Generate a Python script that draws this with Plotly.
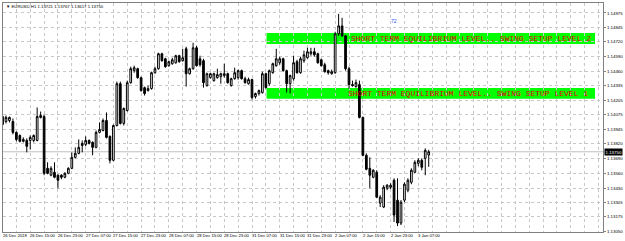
import plotly.graph_objects as go

# ---- data (EURUSD H1) ----
opens = [
1.14061,1.14017,1.14026,1.14017,1.13921,1.13894,1.13842,1.13850,1.13850,1.13850,
1.13850,1.14053,1.14061,1.13604,1.13543,1.13569,1.13543,1.13543,1.13525,1.13560,
1.13604,1.13701,1.13736,1.13824,1.13815,1.13850,1.13833,1.13789,1.13921,1.13938,
1.14026,1.13886,1.13675,1.13982,1.14351,1.14000,1.14114,1.14360,1.14466,1.14483,
1.14404,1.14316,1.14290,1.14308,1.14448,1.14483,1.14615,1.14571,1.14510,1.14527,
1.14536,1.14598,1.14554,1.14659,1.14439,1.14483,1.14668,1.14571,1.14554,1.14334,
1.14404,1.14378,1.14404,1.14413,1.14422,1.14439,1.14334,1.14395,1.14404,1.14466,
1.14395,1.14351,1.14387,1.14237,1.14264,1.14272,1.14439,1.14351,1.14448,1.14510,
1.14536,1.14571,1.14466,1.14351,1.14395,1.14545,1.14448,1.14554,1.14580,1.14615,
1.14633,1.14615,1.14562,1.14518,1.14466,1.14439,1.14448,1.14791,1.14861,1.14773,
1.14483,1.14343,1.14325,1.14343,1.14053,1.13719,1.13604,1.13525,1.13569,1.13297,
1.13262,1.13428,1.13437,1.13499,1.13323,1.13121,1.13323,1.13411,1.13481,1.13569,
1.13648,1.13675,1.13692,1.13721]
highs = [
1.14088,1.14070,1.14061,1.14044,1.13930,1.13903,1.13877,1.13868,1.13894,1.13903,
1.14141,1.14105,1.14079,1.13657,1.13622,1.13657,1.13552,1.13552,1.13569,1.13613,
1.13745,1.13789,1.13859,1.13850,1.13886,1.13859,1.13842,1.13938,1.14009,1.14044,
1.14097,1.13894,1.13991,1.14369,1.14369,1.14141,1.14378,1.14501,1.14510,1.14492,
1.14413,1.14325,1.14334,1.14457,1.14501,1.14624,1.14624,1.14580,1.14554,1.14580,
1.14606,1.14606,1.14659,1.14677,1.14492,1.14712,1.14685,1.14598,1.14571,1.14448,
1.14448,1.14448,1.14483,1.14448,1.14527,1.14448,1.14404,1.14492,1.14475,1.14475,
1.14413,1.14404,1.14395,1.14272,1.14299,1.14457,1.14448,1.14475,1.14536,1.14659,
1.14589,1.14580,1.14475,1.14431,1.14598,1.14562,1.14589,1.14642,1.14668,1.14668,
1.14668,1.14624,1.14571,1.14536,1.14475,1.14475,1.14809,1.14967,1.14932,1.14782,
1.14501,1.14378,1.14387,1.14378,1.14061,1.13736,1.13701,1.13596,1.13587,1.13367,
1.13455,1.13464,1.13472,1.13516,1.13516,1.13323,1.13481,1.13516,1.13604,1.13675,
1.13692,1.13692,1.13780,1.13767]
lows = [
1.13982,1.14000,1.14009,1.13903,1.13842,1.13833,1.13833,1.13745,1.13771,1.13833,
1.13842,1.14044,1.13543,1.13552,1.13534,1.13516,1.13428,1.13508,1.13516,1.13552,
1.13596,1.13692,1.13727,1.13745,1.13798,1.13815,1.13719,1.13780,1.13912,1.13930,
1.13868,1.13648,1.13666,1.13973,1.13991,1.13982,1.14105,1.14351,1.14448,1.14395,
1.14281,1.14246,1.14281,1.14299,1.14439,1.14475,1.14545,1.14492,1.14501,1.14518,
1.14527,1.14536,1.14545,1.14325,1.14431,1.14475,1.14501,1.14501,1.14316,1.14325,
1.14395,1.14369,1.14395,1.14351,1.14404,1.14351,1.14325,1.14387,1.14387,1.14387,
1.14351,1.14343,1.14211,1.14220,1.14246,1.14264,1.14308,1.14334,1.14439,1.14501,
1.14518,1.14457,1.14272,1.14264,1.14378,1.14439,1.14439,1.14536,1.14571,1.14598,
1.14589,1.14527,1.14501,1.14448,1.14431,1.14431,1.14439,1.14773,1.14765,1.14466,
1.14308,1.14325,1.14316,1.14044,1.13710,1.13587,1.13428,1.13516,1.13341,1.13262,
1.13253,1.13411,1.13420,1.13130,1.13094,1.13103,1.13305,1.13393,1.13464,1.13560,
1.13622,1.13587,1.13543,1.13617]
closes = [
1.13991,1.14053,1.14053,1.13921,1.13859,1.13842,1.13859,1.13798,1.13877,1.13894,
1.14061,1.14070,1.13560,1.13560,1.13604,1.13525,1.13499,1.13525,1.13560,1.13604,
1.13701,1.13736,1.13789,1.13806,1.13850,1.13824,1.13789,1.13921,1.13947,1.14026,
1.13877,1.13675,1.13982,1.14351,1.14000,1.14132,1.14360,1.14483,1.14492,1.14404,
1.14290,1.14264,1.14308,1.14448,1.14483,1.14615,1.14554,1.14501,1.14545,1.14562,
1.14598,1.14545,1.14580,1.14439,1.14483,1.14668,1.14510,1.14518,1.14360,1.14439,
1.14439,1.14439,1.14431,1.14439,1.14439,1.14360,1.14395,1.14448,1.14466,1.14395,
1.14360,1.14387,1.14228,1.14264,1.14290,1.14439,1.14316,1.14466,1.14527,1.14571,
1.14571,1.14466,1.14351,1.14422,1.14536,1.14448,1.14571,1.14606,1.14633,1.14633,
1.14606,1.14536,1.14510,1.14457,1.14448,1.14457,1.14791,1.14861,1.14773,1.14483,
1.14343,1.14334,1.14360,1.14053,1.13719,1.13596,1.13543,1.13587,1.13349,1.13349,
1.13437,1.13455,1.13455,1.13191,1.13121,1.13305,1.13464,1.13499,1.13587,1.13657,
1.13675,1.13613,1.13763,1.13750]
assert len(opens) == len(highs) == len(lows) == len(closes) == 124

price_ticks = [1.14975, 1.14845, 1.14720, 1.14590, 1.14460, 1.14335, 1.14205, 1.14075,
               1.13945, 1.13820, 1.13690, 1.13560, 1.13430, 1.13305, 1.13175, 1.13050]
time_labels = ["26 Dec 2018", "26 Dec 15:00", "26 Dec 23:00", "27 Dec 07:00", "27 Dec 15:00",
               "27 Dec 23:00", "28 Dec 07:00", "28 Dec 15:00", "28 Dec 23:00", "31 Dec 07:00",
               "31 Dec 15:00", "31 Dec 23:00", "2 Jan 07:00", "2 Jan 15:00", "2 Jan 23:00",
               "3 Jan 07:00"]
label_bars = [8 * k for k in range(len(time_labels))]

zone2 = (1.14702, 1.14799)   # level 2 band (low, high)
zone1 = (1.14219, 1.14313)   # level 1 band (low, high)
zone_start, zone_end = 76.2, 171.0
zone_text2 = "SHORT TERM EQUILIBRIUM LEVEL.. SWING SETUP LEVEL 2"
zone_text1 = "SHORT TERM EQUILIBRIUM LEVEL.. SWING SETUP LEVEL 1"
bid = closes[-1]

bars = list(range(len(opens)))
X_MIN, X_MAX = 0.14, 173.3
Y_MIN, Y_MAX = 1.13042, 1.15063

small = "Liberation Sans, Arial, sans-serif"
mono = "Liberation Mono, Courier New, monospace"

fig = go.Figure()
fig.add_trace(go.Candlestick(
    x=bars, open=opens, high=highs, low=lows, close=closes,
    increasing=dict(line=dict(color="black", width=1), fillcolor="white"),
    decreasing=dict(line=dict(color="black", width=1), fillcolor="black"),
    whiskerwidth=0, showlegend=False, hoverinfo="skip"))

shapes = []
for lo, hi in (zone2, zone1):
    shapes.append(dict(type="rect", xref="x", yref="y", x0=zone_start, x1=zone_end,
                       y0=lo, y1=hi, fillcolor="#00ff00", line=dict(width=0), layer="below"))
shapes.append(dict(type="line", xref="paper", yref="y", x0=0, x1=1, y0=bid, y1=bid,
                   line=dict(color="#c0c0c0", width=1), layer="below"))

annotations = []
annotations.append(dict(x=100, y=(zone2[0] + zone2[1]) / 2, xref="x", yref="y", text=zone_text2,
                        showarrow=False, xanchor="left", yanchor="middle",
                        font=dict(family=mono, size=8, color="#e00000")))
annotations.append(dict(x=99, y=(zone1[0] + zone1[1]) / 2, xref="x", yref="y", text=zone_text1,
                        showarrow=False, xanchor="left", yanchor="middle",
                        font=dict(family=mono, size=8, color="#e00000")))
for b, t in zip(label_bars, time_labels):
    annotations.append(dict(x=max(b, X_MIN + 0.05), y=-0.0174, xref="x", yref="paper", text=t,
                            showarrow=False, xanchor="left", yanchor="middle",
                            borderpad=0, xshift=-1,
                            font=dict(family=small, size=4.2, color="black")))
header = "▼ EURUSD,H1 %.5f %.5f %.5f %.5f" % (opens[-1], highs[-1], lows[-1], closes[-1])
annotations.append(dict(x=0.003, y=0.985, xref="paper", yref="paper", text=header,
                        showarrow=False, xanchor="left", yanchor="middle", borderpad=0,
                        font=dict(family=small, size=4.3, color="black")))
annotations.append(dict(x=113, y=1.14905, xref="x", yref="y", text="72", showarrow=False,
                        font=dict(family=small, size=5, color="#3050ff")))
annotations.append(dict(x=1.0, y=bid, xref="paper", yref="y", text="%.5f" % bid,
                        showarrow=False, xanchor="left", yanchor="middle", xshift=1,
                        bgcolor="black", borderpad=0.5,
                        font=dict(family=small, size=4.4, color="white")))

fig.update_layout(
    width=625, height=241,
    margin=dict(l=2, r=20, t=2, b=9, pad=0),
    paper_bgcolor="white", plot_bgcolor="white",
    shapes=shapes, annotations=annotations,
    xaxis=dict(range=[X_MIN, X_MAX], tickvals=list(range(0, 174, 4)),
               showticklabels=False, showgrid=True, gridcolor="#c8c8c8", griddash="dot",
               gridwidth=1, zeroline=False, showline=True, linecolor="#808080",
               mirror=True, rangeslider=dict(visible=False), ticks=""),
    yaxis=dict(range=[Y_MIN, Y_MAX], side="right", tickvals=price_ticks,
               ticktext=["%.5f" % v for v in price_ticks],
               tickfont=dict(family=small, size=4.4, color="black"),
               ticks="outside", ticklen=2, tickcolor="#808080",
               showgrid=True, gridcolor="#c8c8c8", griddash="dot", gridwidth=1,
               zeroline=False, showline=True, linecolor="#808080", mirror=True),
)

fig.write_html("out.html")
